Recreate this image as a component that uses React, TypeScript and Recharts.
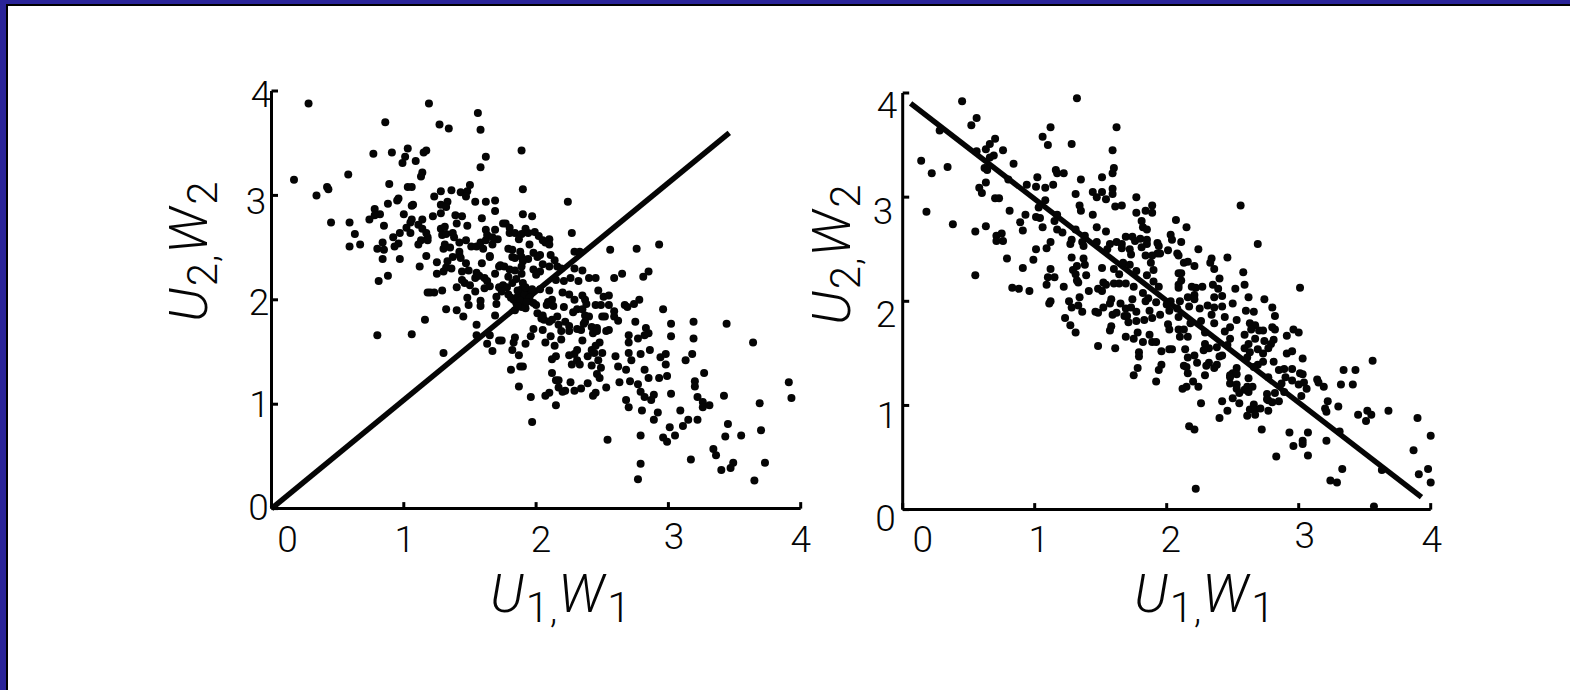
import { ScatterChart, Scatter, XAxis, YAxis, ReferenceLine, Label } from "recharts";

const tickValues = [0, 1, 2, 3, 4];

// [U, W]
const leftCloud: number[][] = [
  [.28,3.88],[1.19,3.88],[1.56,3.79],[1.58,3.63],[.86,3.70],[1.27,3.68],[1.34,3.64],[.77,3.40],[.91,3.41],[1.03,3.45],
  [1.01,3.37],[.99,3.31],[1.09,3.33],[1.15,3.41],[1.17,3.43],[1.62,3.37],[1.58,3.27],[.17,3.15],[.34,3.00],[.42,3.08],
  [.43,3.06],[.58,3.20],[.45,2.74],[.59,2.74],[.63,2.63],[.59,2.51],[.67,2.53],[1.14,3.22],[1.13,3.18],[.89,3.11],
  [1.03,3.08],[1.06,3.08],[1.28,3.04],[1.36,3.05],[1.43,3.03],[1.48,3.04],[1.50,3.10],[1.47,2.99],[1.23,2.99],[.96,2.97],
  [.95,2.95],[.88,2.92],[.78,2.87],[.82,2.82],[.78,2.81],[.74,2.77],[1.00,2.82],[1.07,2.91],[1.06,2.90],[1.28,2.91],
  [1.33,2.94],[1.32,2.89],[1.28,2.83],[1.22,2.80],[1.54,2.94],[1.62,2.94],[1.69,2.95],[1.69,2.85],[1.39,2.81],[1.44,2.80],
  [1.59,2.78],[1.40,2.73],[1.48,2.71],[1.06,2.77],[1.14,2.77],[1.05,2.74],[1.02,2.69],[1.05,2.64],[1.11,2.72],[1.14,2.68],
  [.85,2.71],[.97,2.64],[.92,2.60],[1.17,2.64],[1.18,2.60],[1.13,2.57],[1.18,2.57],[1.11,2.53],[.96,2.54],[.93,2.51],
  [.84,2.55],[.80,2.49],[.85,2.48],[.84,2.39],[.97,2.39],[1.17,2.42],[1.12,2.32],[.88,2.23],[.81,2.18],[1.25,2.36],
  [1.25,2.25],[1.30,2.27],[1.32,2.31],[1.36,2.30],[1.33,2.37],[1.37,2.41],[1.42,2.46],[1.42,2.43],[1.43,2.40],[1.30,2.49],
  [1.31,2.53],[1.35,2.50],[1.42,2.55],[1.47,2.57],[1.51,2.51],[1.55,2.51],[1.58,2.55],[1.60,2.49],[1.62,2.57],[1.67,2.53],
  [1.71,2.58],[1.65,2.42],[1.65,2.41],[1.59,2.35],[1.72,2.32],[1.69,2.25],[1.28,2.68],[1.31,2.70],[1.29,2.62],[1.32,2.63],
  [1.37,2.64],[1.38,2.60],[1.62,2.67],[1.63,2.62],[1.69,2.67],[1.67,2.60],[1.47,2.35],[1.44,2.27],[1.49,2.28],[1.55,2.26],
  [1.54,2.21],[1.57,2.23],[1.61,2.21],[1.63,2.18],[1.44,2.19],[1.46,2.16],[1.50,2.14],[1.40,2.12],[1.54,2.08],[1.61,2.11],
  [1.65,2.13],[1.29,2.09],[1.23,2.07],[1.20,2.07],[1.18,2.07],[1.48,2.02],[1.49,1.95],[1.58,1.99],[1.58,1.94],[1.32,1.91],
  [1.40,1.90],[1.45,1.84],[1.70,2.03],[1.70,1.96],[1.69,1.85],[1.16,1.81],[1.55,1.76],[1.65,1.66],[1.55,1.66],[.80,1.66],
  [1.06,1.67],[1.63,1.58],[1.72,1.61],[1.30,1.49],[1.67,1.51],[1.72,2.12],
  [1.90,2.82],[1.97,2.80],[2.24,2.94],[2.27,2.64],[1.75,2.73],[1.77,2.73],[1.80,2.69],[1.80,2.64],[1.84,2.64],[1.87,2.58],
  [1.89,2.63],[1.92,2.68],[1.94,2.64],[1.99,2.65],[2.02,2.61],[2.05,2.57],[2.10,2.58],[2.07,2.55],[2.10,2.53],[1.95,2.53],
  [1.79,2.49],[1.82,2.48],[1.88,2.46],[1.98,2.45],[2.03,2.43],[2.01,2.41],[1.82,2.41],[1.84,2.40],[1.89,2.41],[1.94,2.39],
  [1.90,2.37],[2.11,2.43],[2.14,2.38],[2.05,2.34],[2.10,2.32],[2.16,2.32],[1.73,2.33],[1.76,2.32],[1.80,2.29],[1.84,2.28],
  [1.89,2.32],[1.89,2.25],[1.98,2.29],[2.03,2.27],[2.00,2.24],[1.79,2.22],[1.85,2.20],[1.75,2.14],[1.78,2.12],[1.82,2.16],
  [1.90,2.16],[1.89,2.10],[1.93,2.09],[1.96,2.06],[1.87,2.05],[1.79,2.05],[1.74,2.08],[1.83,2.00],[1.90,2.00],[1.88,1.96],
  [1.85,1.97],[1.92,1.92],[1.84,1.90],[1.89,1.93],[1.98,1.97],[2.00,1.95],[2.19,2.30],[2.29,2.30],[2.35,2.28],[2.26,2.21],
  [2.32,2.18],[2.40,2.21],[2.45,2.21],[2.21,2.18],[2.15,2.19],[2.10,2.09],[2.03,2.10],[2.20,2.07],[2.25,2.05],[2.29,2.00],
  [2.35,2.04],[2.37,2.00],[2.12,2.00],[2.09,1.98],[2.08,1.95],[2.13,1.94],[2.21,1.93],[2.28,1.88],[2.31,1.91],[2.35,1.91],
  [2.38,1.96],[2.47,2.09],[2.51,2.03],[2.55,2.04],[2.45,1.95],[2.49,1.95],[2.55,1.95],[2.59,1.89],[2.67,1.95],[2.69,1.93],
  [2.74,1.96],[2.78,2.00],[2.59,2.21],[2.65,2.25],[2.56,2.48],[2.76,2.49],[2.93,2.53],[2.29,2.46],[2.33,2.46],[2.81,2.22],
  [2.85,2.27],[2.96,1.91],[3.02,1.77],[3.19,1.79],[3.44,1.77],[3.64,1.59],[3.02,1.65],[3.19,1.63],[2.75,1.79],[2.83,1.73],
  [2.85,1.68],[2.82,1.66],[2.70,1.66],[2.70,1.59],[2.77,1.63],[2.59,1.84],[2.62,1.80],[2.50,1.84],[2.52,1.84],[2.37,1.85],
  [2.40,1.84],[2.37,1.79],[2.16,1.84],[2.12,1.81],[2.10,1.79],[2.06,1.81],[2.01,1.87],[2.05,1.85],[2.04,1.82],[2.17,1.76],
  [2.22,1.79],[2.25,1.75],[2.19,1.70],[2.25,1.70],[2.31,1.72],[2.36,1.77],[2.42,1.74],[2.46,1.73],[2.43,1.68],[2.34,1.71],
  [2.46,1.70],[2.53,1.70],[2.55,1.71],[1.98,1.72],[2.05,1.71],[1.96,1.65],[1.92,1.58],[1.84,1.64],[1.83,1.59],[1.74,1.61],
  [1.82,1.52],[1.87,1.47],[2.11,1.65],[2.07,1.59],[2.19,1.62],[2.14,1.56],[2.35,1.61],[2.31,1.52],[2.29,1.48],[2.25,1.47],
  [2.15,1.46],[2.12,1.43],[2.27,1.38],[2.31,1.42],[2.33,1.38],[2.39,1.46],[2.42,1.52],[2.45,1.56],[2.48,1.59],[2.44,1.49],
  [2.50,1.49],[2.47,1.42],[2.42,1.37],[2.49,1.35],[2.46,1.29],[2.48,1.25],[2.60,1.46],[2.62,1.36],[2.68,1.33],[2.70,1.49],
  [2.72,1.42],[2.79,1.48],[2.86,1.52],[2.94,1.45],[2.98,1.48],[2.98,1.38],[3.13,1.42],[3.18,1.48],[2.82,1.33],[2.85,1.25],
  [2.93,1.25],[2.99,1.27],[2.71,1.22],[2.63,1.21],[2.77,1.19],[3.27,1.30],[3.20,1.22],[3.20,1.17],[3.02,1.10],[2.79,1.12],
  [2.82,1.07],[2.89,1.09],[2.87,1.04],[2.68,1.04],[2.70,.97],[2.80,.94],[2.92,.92],[2.89,.85],[3.09,.94],[3.22,1.07],
  [3.26,1.02],[3.31,.99],[3.26,.97],[3.42,1.08],[3.22,.85],[3.15,.85],[3.11,.79],[3.01,.78],[3.05,.70],[2.96,.68],
  [2.99,.64],[2.79,.70],[2.54,.66],[2.79,.43],[2.77,.28],[3.17,.47],[3.34,.57],[3.36,.51],[3.49,.44],[3.47,.39],
  [3.40,.37],[3.65,.27],[3.73,.44],[3.55,.70],[3.43,.69],[3.45,.81],[3.70,.75],[3.69,1.01],[3.91,1.21],[3.93,1.06],
  [2.12,1.30],[2.15,1.23],[2.17,1.23],[2.26,1.21],[2.39,1.20],[2.34,1.15],[2.29,1.13],[2.22,1.13],[2.20,1.12],[2.17,1.16],
  [2.53,1.16],[2.45,1.11],[2.43,1.08],[2.10,1.11],[2.07,1.08],[2.15,.99],[1.96,1.07],[1.87,1.17],[1.81,1.33],[1.88,1.36],
  [1.90,1.36],[1.97,.83],[1.89,3.43],[1.90,3.06],
  // tight knot on the line
  [1.86,2.03],[1.91,2.05],[1.95,2.02],[1.88,1.99],[1.93,1.98],[1.86,2.09],[1.92,2.12],[1.97,2.10],[1.81,2.02],[1.86,1.94],
];

// [U, W]
const rightCloud: number[][] = [
  [.45,3.92],[1.32,3.95],[.56,3.76],[.52,3.69],[.28,3.64],[1.12,3.67],[1.06,3.58],[1.10,3.50],[1.62,3.67],[1.28,3.51],
  [.70,3.56],[.66,3.51],[.63,3.46],[.76,3.45],[.56,3.44],[.69,3.40],[.66,3.38],[.84,3.32],[.14,3.35],[.22,3.23],
  [.34,3.29],[.62,3.28],[.64,3.26],[1.59,3.45],[1.60,3.28],[1.59,3.23],[1.16,3.26],[1.17,3.23],[1.22,3.23],[1.02,3.19],
  [1.35,3.17],[1.51,3.19],[.80,3.17],[.94,3.12],[1.01,3.10],[1.08,3.09],[1.14,3.12],[.63,3.14],[.58,3.09],[.60,3.04],
  [.70,2.99],[.73,2.99],[1.31,3.03],[1.44,3.05],[1.47,3.00],[1.51,3.05],[1.54,2.98],[1.59,3.08],[1.59,3.03],[1.77,3.00],
  [1.08,2.97],[1.03,2.90],[1.34,2.92],[1.35,2.87],[1.61,2.91],[1.66,2.92],[.81,2.87],[.18,2.86],[.93,2.83],[1.17,2.83],
  [1.01,2.81],[1.04,2.80],[1.44,2.83],[1.77,2.85],[.38,2.74],[.89,2.76],[1.15,2.77],[.63,2.72],[1.06,2.71],[.91,2.68],
  [1.17,2.69],[1.21,2.66],[1.31,2.69],[1.47,2.71],[.55,2.67],[.75,2.65],[.71,2.63],[1.54,2.67],[1.38,2.63],[.71,2.58],
  [.76,2.58],[1.28,2.59],[1.12,2.57],[1.27,2.55],[1.09,2.51],[1.01,2.50],[1.36,2.57],[1.37,2.53],[1.47,2.57],[1.57,2.55],
  [1.62,2.57],[1.66,2.55],[1.69,2.62],[1.74,2.62],[1.76,2.58],[1.66,2.51],[1.72,2.50],[1.73,2.45],[1.55,2.50],[.79,2.41],
  [.99,2.40],[1.28,2.42],[1.37,2.41],[1.38,2.35],[1.67,2.37],[1.72,2.35],[.91,2.32],[1.12,2.31],[1.32,2.34],[1.29,2.30],
  [1.51,2.32],[1.60,2.31],[1.77,2.29],[.55,2.25],[1.10,2.23],[1.15,2.23],[1.31,2.26],[1.39,2.25],[1.64,2.26],[1.32,2.20],
  [1.33,2.18],[1.09,2.16],[.83,2.13],[.88,2.12],[.96,2.10],[1.22,2.14],[1.41,2.10],[1.48,2.12],[1.52,2.18],[1.54,2.16],
  [1.51,2.10],[1.60,2.17],[1.64,2.17],[1.69,2.17],[1.75,2.14],[1.34,2.04],[1.12,2.00],[1.11,1.98],[1.26,2.00],[1.28,1.94],
  [1.33,1.96],[1.36,1.90],[1.58,2.02],[1.57,1.98],[1.65,1.98],[1.74,2.02],[1.52,1.94],[1.46,1.90],[1.48,1.89],[1.59,1.87],
  [1.62,1.89],[1.69,1.93],[1.73,1.94],[1.77,1.90],[1.68,1.86],[1.70,1.86],[1.23,1.84],[1.27,1.77],[1.31,1.70],[1.58,1.76],
  [1.57,1.72],[1.77,1.81],[1.71,1.80],[1.78,1.70],[1.69,1.66],[1.75,1.64],[1.48,1.57],[1.61,1.55],[1.79,1.51],[1.79,1.47],
  [1.78,1.36],[1.75,1.29],
  [2.56,2.92],[1.89,2.92],[1.89,2.85],[1.84,2.87],[1.81,2.77],[1.82,2.71],[1.85,2.69],[2.07,2.78],[2.15,2.71],[1.80,2.60],
  [1.85,2.59],[1.85,2.55],[1.81,2.52],[1.93,2.56],[1.94,2.53],[1.93,2.46],[1.84,2.44],[1.89,2.44],[1.88,2.37],[2.03,2.64],
  [2.04,2.59],[2.11,2.57],[2.24,2.50],[2.69,2.55],[1.95,2.46],[2.01,2.49],[2.08,2.46],[2.09,2.44],[2.46,2.42],[2.34,2.41],
  [2.33,2.37],[2.13,2.37],[2.16,2.38],[2.21,2.34],[2.36,2.31],[1.90,2.30],[2.09,2.27],[2.11,2.27],[2.58,2.28],[1.85,2.25],
  [2.40,2.22],[3.01,2.13],[1.90,2.19],[1.94,2.14],[2.11,2.20],[2.09,2.16],[2.09,2.13],[2.19,2.14],[2.22,2.13],[2.27,2.14],
  [2.35,2.16],[2.39,2.12],[2.52,2.12],[2.59,2.16],[1.82,2.08],[1.86,2.03],[1.84,2.00],[2.36,2.04],[2.42,2.05],[2.21,2.06],
  [2.16,2.04],[2.21,2.02],[2.62,2.04],[2.74,2.02],[2.03,2.00],[1.92,1.99],[2.00,1.97],[2.10,2.00],[2.08,1.93],[2.02,1.91],
  [2.17,1.95],[2.50,1.98],[2.80,1.94],[2.82,1.86],[2.60,1.91],[2.66,1.90],[2.25,1.93],[2.31,1.96],[2.36,1.94],[2.42,1.95],
  [2.34,1.87],[1.87,1.91],[1.95,1.87],[1.89,1.84],[1.83,1.82],[2.09,1.85],[2.18,1.79],[2.26,1.81],[2.44,1.85],[2.53,1.82],
  [2.36,1.79],[2.01,1.78],[2.02,1.73],[2.09,1.73],[2.13,1.73],[2.29,1.70],[2.48,1.75],[2.44,1.71],[2.63,1.79],[2.67,1.77],
  [2.64,1.73],[2.70,1.72],[2.73,1.72],[2.80,1.75],[2.82,1.73],[2.59,1.68],[2.96,1.73],[3.00,1.70],[2.91,1.67],[2.10,1.66],
  [2.16,1.66],[2.48,1.64],[2.67,1.64],[2.74,1.62],[2.81,1.63],[2.79,1.59],[1.87,1.68],[1.82,1.61],[1.89,1.61],[1.92,1.61],
  [2.14,1.54],[1.96,1.52],[2.02,1.54],[2.04,1.54],[2.29,1.59],[2.38,1.56],[2.32,1.55],[2.28,1.53],[2.46,1.58],[2.59,1.55],
  [2.62,1.59],[2.69,1.54],[2.77,1.55],[2.91,1.50],[2.95,1.52],[2.63,1.51],[2.73,1.50],[2.21,1.48],[2.16,1.46],[2.40,1.47],
  [2.42,1.48],[3.03,1.45],[3.56,1.43],[2.61,1.46],[2.23,1.41],[2.32,1.41],[2.30,1.38],[2.38,1.39],[2.36,1.36],[2.13,1.38],
  [2.15,1.37],[1.96,1.39],[1.94,1.34],[2.81,1.42],[2.73,1.42],[2.69,1.39],[2.66,1.37],[2.53,1.36],[2.50,1.31],[2.16,1.31],
  [2.29,1.29],[2.48,1.29],[2.53,1.30],[2.62,1.26],[2.77,1.27],[2.85,1.34],[2.89,1.35],[2.95,1.35],[3.01,1.31],[3.03,1.30],
  [3.34,1.34],[3.43,1.34],[1.92,1.23],[2.20,1.23],[2.90,1.27],[2.95,1.24],[2.87,1.21],[3.00,1.20],[3.04,1.22],[3.14,1.25],
  [3.15,1.22],[3.19,1.18],[3.32,1.20],[3.41,1.20],[2.24,1.18],[2.15,1.18],[2.12,1.16],[2.48,1.27],[2.48,1.21],[2.53,1.20],
  [2.53,1.16],[2.61,1.18],[2.65,1.18],[2.59,1.15],[2.55,1.12],[2.62,1.13],[2.76,1.11],[2.82,1.12],[2.89,1.13],[3.06,1.16],
  [3.02,1.09],[2.76,1.06],[2.77,1.05],[2.80,1.03],[2.85,1.04],[2.50,1.07],[2.42,1.04],[2.26,1.02],[2.55,1.02],[2.66,1.01],
  [2.63,.96],[2.67,.96],[2.71,.97],[2.77,.95],[2.61,.90],[2.67,.91],[2.46,.95],[2.40,.88],[3.22,1.04],[3.20,.97],
  [3.21,.94],[3.30,.99],[3.45,.91],[3.52,.95],[3.55,.91],[3.51,.85],[3.68,.95],[3.90,.88],[4.00,.71],[3.87,.57],
  [3.98,.39],[3.91,.34],[4.00,.26],[3.63,.38],[3.57,.03],[3.33,.39],[3.31,.75],[3.21,.66],[3.07,.74],[2.93,.74],
  [3.03,.66],[3.03,.63],[2.96,.61],[3.07,.52],[2.83,.51],[3.24,.28],[3.29,.26],[2.72,.77],[2.17,.80],[2.21,.77],
  [2.22,.20],
];

const leftFit = [{ x: 0, y: 0 }, { x: 3.46, y: 3.6 }];
const rightFit = [{ x: 0.06, y: 3.9 }, { x: 3.93, y: 0.12 }];

const FONT = "Roboto, 'Noto Sans', sans-serif";

type PanelLayout = {
  left: number;
  top: number;
  yAxisWidth: number;
  plotWidth: number;
  plotHeight: number;
  yTickX: number[];
  yTickDy: number[];
  xTickDx: number[];
  xTickBase: number[];
  xTitle: number[];
  yTitle: number[];
};

const CHART_W = 680;
const CHART_H = 570;

const Dot = (p: any) => <circle cx={p.cx} cy={p.cy} r={4} fill="#050505" />;

// U<sub>n</sub>,W<sub>n</sub> in the thin lettering of the slide
function Title({ x, y, n, rotate }: { x: number; y: number; n: string; rotate?: boolean }) {
  return (
    <text
      x={x}
      y={y}
      transform={rotate ? `rotate(-90 ${x} ${y})` : undefined}
      fontFamily={FONT}
      fontWeight={300}
      fill="#050505"
    >
      <tspan fontSize={53} fontStyle="italic">U</tspan>
      <tspan fontSize={42} dy={10} dx={2}>{n}</tspan>
      <tspan fontSize={37} dx={1}>,</tspan>
      <tspan fontSize={53} fontStyle="italic" dy={-10} dx={1}>W</tspan>
      <tspan fontSize={42} dy={10} dx={3}>{n}</tspan>
    </text>
  );
}

function Panel({ cloud, fit, layout, yn }: { cloud: number[][]; fit: { x: number; y: number }[]; layout: PanelLayout; yn: string }) {
  const data = cloud.map(([x, y]) => ({ x, y }));
  const yTick = (p: any) => (
    <text
      x={layout.yTickX[p.index] - layout.left}
      y={p.y + layout.yTickDy[p.index]}
      textAnchor="middle"
      fontFamily={FONT}
      fontWeight={300}
      fontSize={37}
      fill="#050505"
    >
      {p.payload.value}
    </text>
  );
  const xTick = (p: any) => (
    <text
      x={p.x + layout.xTickDx[p.index]}
      y={layout.xTickBase[p.index] - layout.top}
      textAnchor="middle"
      fontFamily={FONT}
      fontWeight={300}
      fontSize={37}
      fill="#050505"
    >
      {p.payload.value}
    </text>
  );
  const axisStyle = { stroke: "#000", strokeWidth: 3 };
  return (
    <div style={{ position: "absolute", left: layout.left, top: layout.top }}>
      <ScatterChart
        width={CHART_W}
        height={CHART_H}
        margin={{ top: 20, right: CHART_W - layout.yAxisWidth - layout.plotWidth, bottom: 0, left: 0 }}
      >
        <XAxis
          type="number"
          dataKey="x"
          domain={[0, 4]}
          ticks={tickValues}
          interval={0}
          height={CHART_H - 20 - layout.plotHeight}
          tickSize={-6.5}
          axisLine={axisStyle}
          tickLine={axisStyle}
          tick={xTick}
        >
          <Label content={() => <Title x={layout.xTitle[0] - layout.left} y={layout.xTitle[1] - layout.top} n="1" />} />
        </XAxis>
        <YAxis
          type="number"
          dataKey="y"
          domain={[0, 4]}
          ticks={tickValues}
          interval={0}
          width={layout.yAxisWidth}
          tickSize={-6.5}
          axisLine={axisStyle}
          tickLine={axisStyle}
          tick={yTick}
        >
          <Label content={() => <Title x={layout.yTitle[0] - layout.left} y={layout.yTitle[1] - layout.top} n={yn} rotate />} />
        </YAxis>
        <Scatter data={data} shape={Dot} isAnimationActive={false} />
        <ReferenceLine segment={fit} stroke="#050505" strokeWidth={5.5} ifOverflow="visible" />
      </ScatterChart>
    </div>
  );
}

const leftLayout: PanelLayout = {
  left: 150,
  top: 71,
  yAxisWidth: 121.5,
  plotWidth: 529.2,
  plotHeight: 417.6,
  yTickX: [258.5, 259.5, 259, 256, 261],
  yTickDy: [11.7, 12.7, 15, 18.7, 16.3],
  xTickDx: [16, 1, 5, 5.5, 0],
  xTickBase: [552, 552, 552, 549, 552],
  xTitle: [490, 612],
  yTitle: [207, 322],
};

const rightLayout: PanelLayout = {
  left: 780,
  top: 73,
  yAxisWidth: 122.7,
  plotWidth: 528,
  plotHeight: 416.6,
  yTickX: [885.5, 887, 886, 883, 887],
  yTickDy: [21.7, 23, 26, 27, 25],
  xTickDx: [20, 4, 4, 6, 1],
  xTickBase: [552, 552, 552, 548, 552],
  xTitle: [1134, 612],
  yTitle: [850, 325],
};

export default function App() {
  return (
    <div style={{ position: "absolute", left: 0, top: 0, width: 1570, height: 690, background: "#fff", overflow: "hidden" }}>
      <div style={{ position: "absolute", left: 0, top: 0, width: 1570, height: 4, background: "#2a2499" }} />
      <div style={{ position: "absolute", left: 0, top: 0, width: 6, height: 690, background: "#2a2499" }} />
      <div style={{ position: "absolute", left: 6, top: 4, width: 1564, height: 2, background: "#000" }} />
      <div style={{ position: "absolute", left: 6, top: 4, width: 2, height: 686, background: "#000" }} />
      <Panel cloud={leftCloud} fit={leftFit} layout={leftLayout} yn="2" />
      <Panel cloud={rightCloud} fit={rightFit} layout={rightLayout} yn="2" />
    </div>
  );
}
